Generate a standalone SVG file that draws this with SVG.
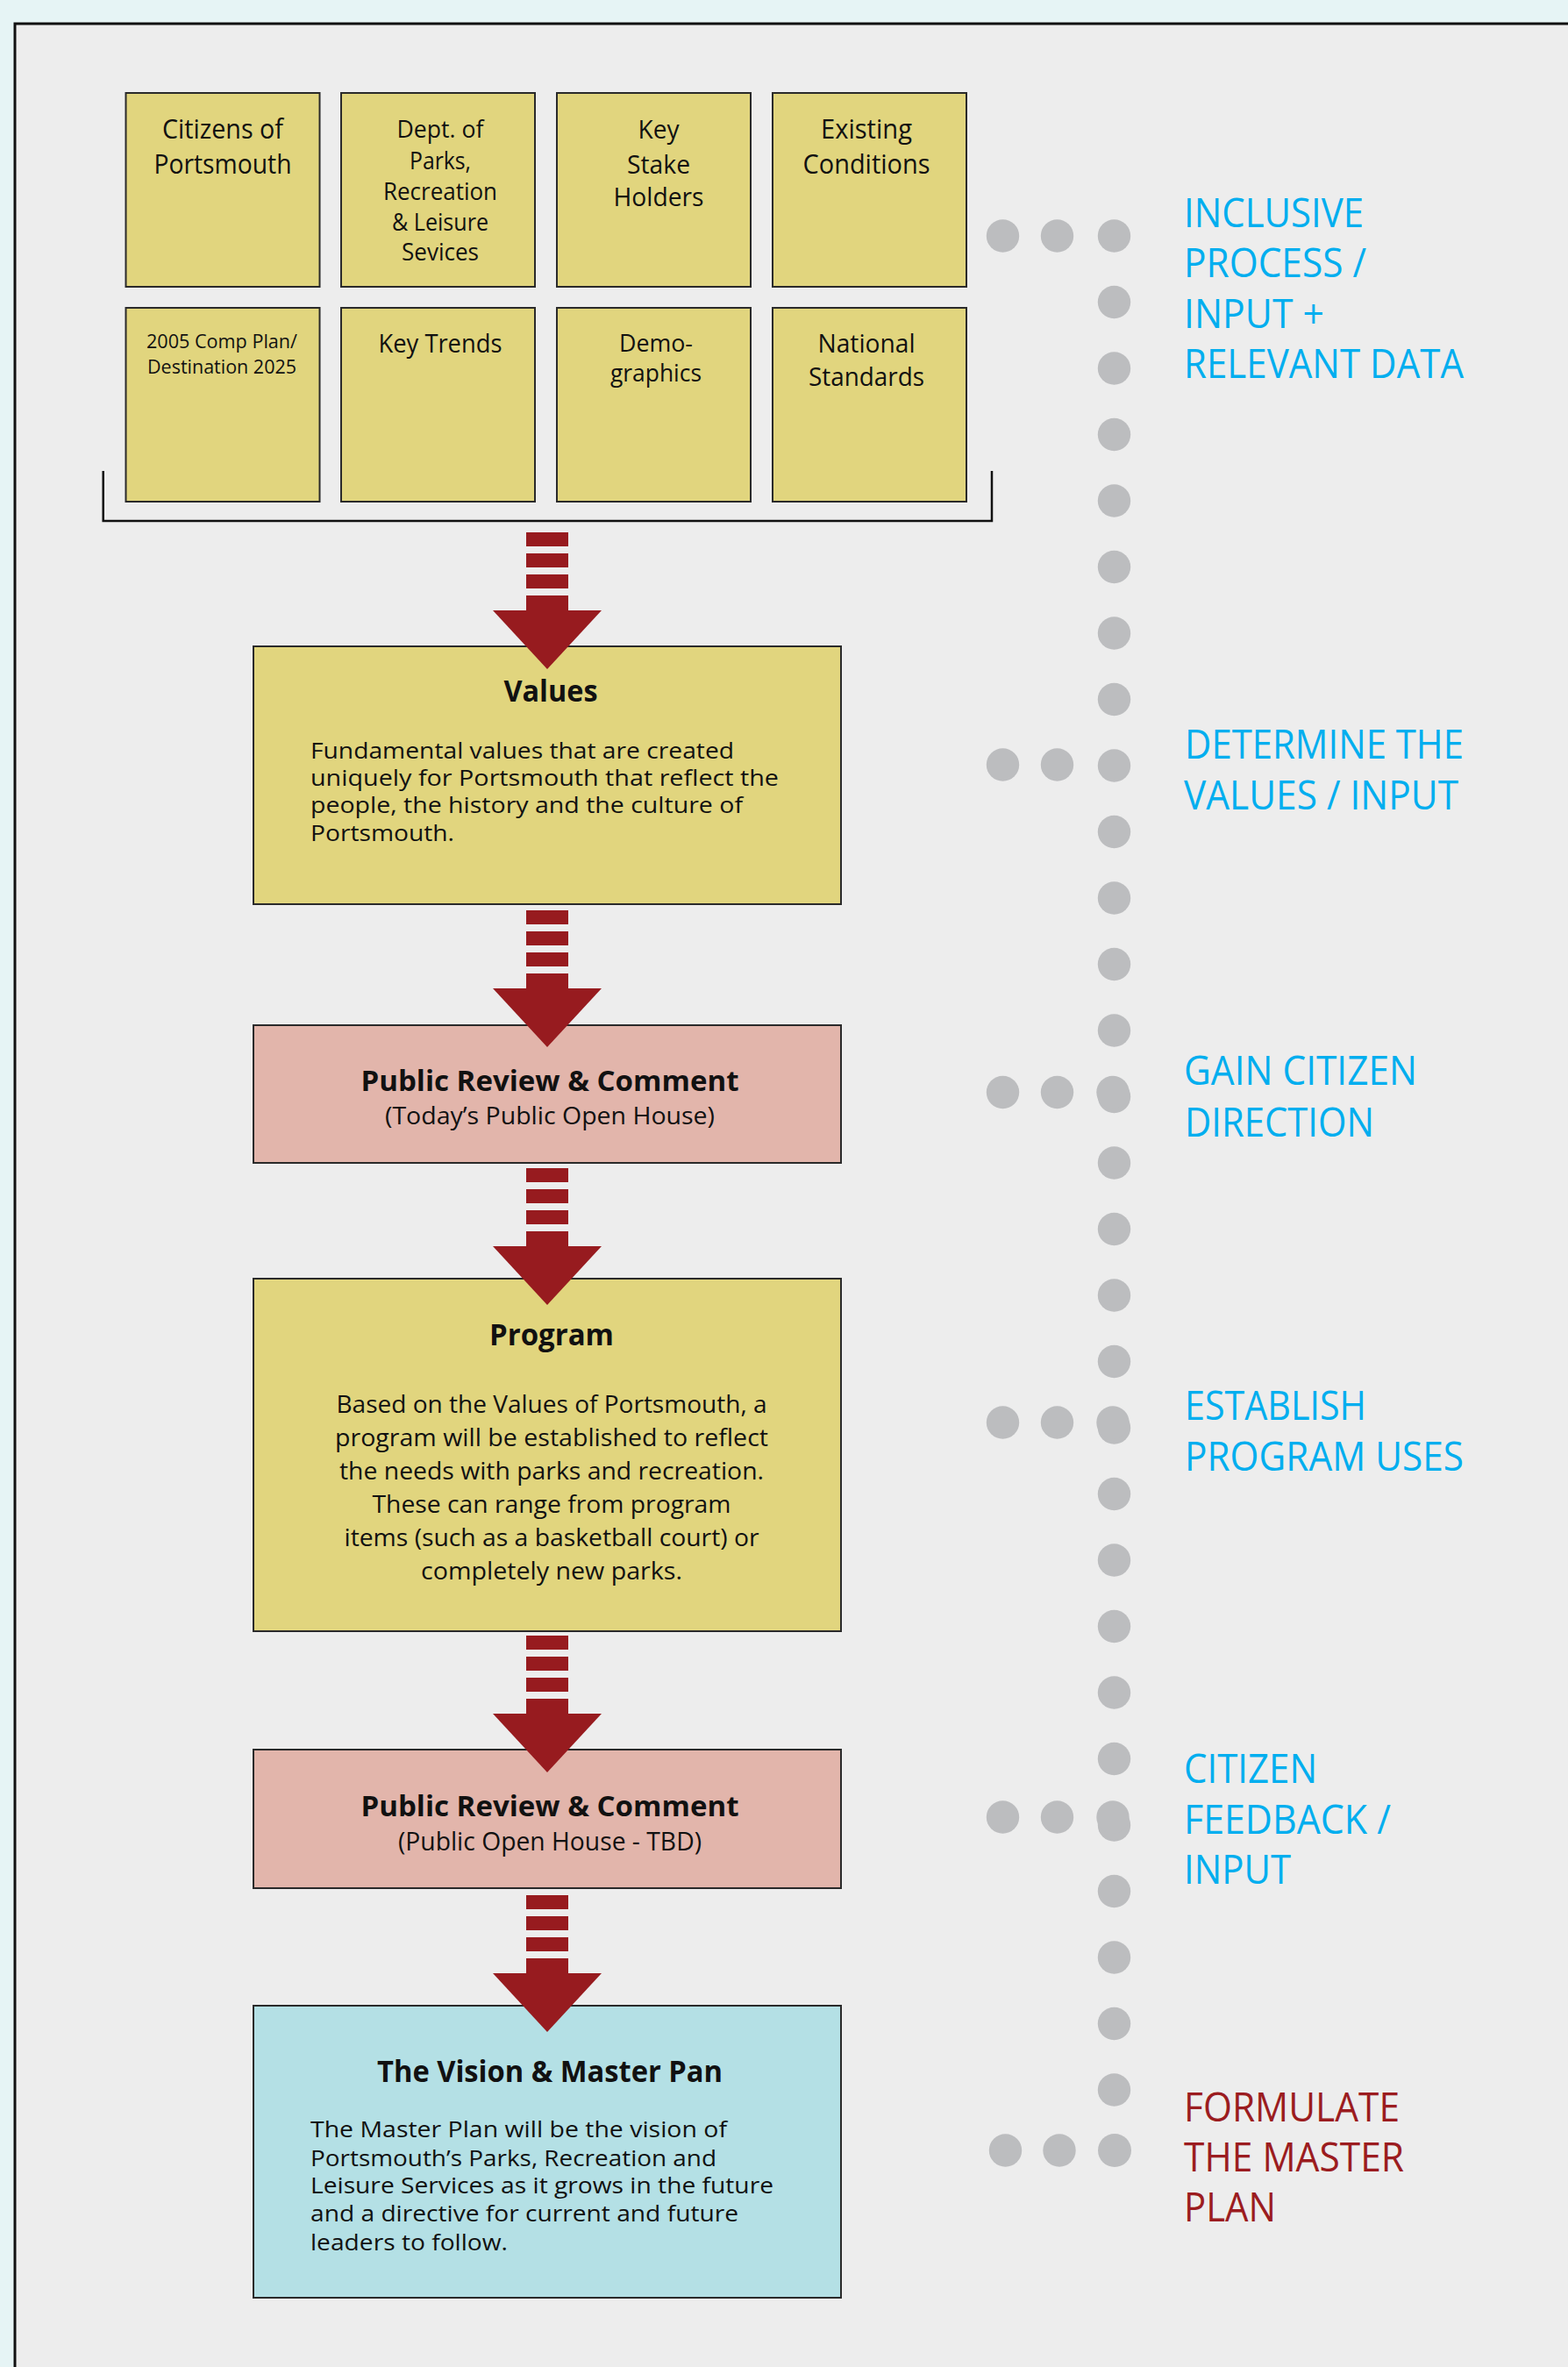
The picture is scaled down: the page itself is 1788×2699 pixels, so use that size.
<svg xmlns="http://www.w3.org/2000/svg" width="1788" height="2699" viewBox="0 0 1788 2699">
<style>
text{font-family:"Open Sans","Noto Sans",sans-serif;fill:#111}
.c{text-anchor:middle}
.b{font-weight:bold}
.y{fill:#e1d57e;stroke:#2a2a2a;stroke-width:2}
.p{fill:#e2b5ab;stroke:#2a2a2a;stroke-width:2}
.v{fill:#b4e0e5;stroke:#2a2a2a;stroke-width:2}
.dot{fill:#bcbdbf}
.lab{font-size:46px;fill:#00aeef}
.labr{font-size:46px;fill:#9b1c20}
.ar{fill:#971b1f}
.body{font-size:26px}
</style>
<defs>
<g id="arrow">
<rect class="ar" x="600" y="0" width="48" height="16"/>
<rect class="ar" x="600" y="24" width="48" height="16"/>
<rect class="ar" x="600" y="48" width="48" height="16"/>
<rect class="ar" x="600" y="72" width="48" height="18"/>
<polygon class="ar" points="562,89 686,89 624,156"/>
</g>
</defs>
<rect x="0" y="0" width="1788" height="2699" fill="#e6f4f5"/>
<rect x="17" y="27" width="1771" height="2672" fill="#ededed"/>
<path d="M17,2699 V27 H1788" fill="none" stroke="#111" stroke-width="3"/>

<g id="input-boxes">
<g id="citizens"><rect class="y" x="143.5" y="106" width="221" height="221"/>
<text class="c" font-size="31" x="254" y="158" textLength="138" lengthAdjust="spacingAndGlyphs">Citizens of</text>
<text class="c" font-size="31" x="254" y="198" textLength="157" lengthAdjust="spacingAndGlyphs">Portsmouth</text></g>
<g id="dept"><rect class="y" x="389" y="106" width="221" height="221"/>
<text class="c" font-size="27" x="502" y="157" textLength="99" lengthAdjust="spacingAndGlyphs">Dept. of</text>
<text class="c" font-size="27" x="502" y="193" textLength="70" lengthAdjust="spacingAndGlyphs">Parks,</text>
<text class="c" font-size="27" x="502" y="228" textLength="130" lengthAdjust="spacingAndGlyphs">Recreation</text>
<text class="c" font-size="27" x="502" y="263" textLength="110" lengthAdjust="spacingAndGlyphs">&amp; Leisure</text>
<text class="c" font-size="27" x="502" y="297" textLength="88" lengthAdjust="spacingAndGlyphs">Sevices</text></g>
<g id="stakeholders"><rect class="y" x="635" y="106" width="221" height="221"/>
<text class="c" font-size="30" x="751" y="158" textLength="47" lengthAdjust="spacingAndGlyphs">Key</text>
<text class="c" font-size="30" x="751" y="198" textLength="72" lengthAdjust="spacingAndGlyphs">Stake</text>
<text class="c" font-size="30" x="751" y="235" textLength="103" lengthAdjust="spacingAndGlyphs">Holders</text></g>
<g id="existing"><rect class="y" x="881" y="106" width="221" height="221"/>
<text class="c" font-size="31" x="988" y="158" textLength="104" lengthAdjust="spacingAndGlyphs">Existing</text>
<text class="c" font-size="31" x="988" y="198" textLength="145" lengthAdjust="spacingAndGlyphs">Conditions</text></g>
<g id="compplan"><rect class="y" x="143.5" y="351" width="221" height="221"/>
<text class="c" font-size="21" x="253" y="397" textLength="172" lengthAdjust="spacingAndGlyphs">2005 Comp Plan/</text>
<text class="c" font-size="21" x="253" y="426" textLength="170" lengthAdjust="spacingAndGlyphs">Destination 2025</text></g>
<g id="trends"><rect class="y" x="389" y="351" width="221" height="221"/>
<text class="c" font-size="29" x="502" y="402" textLength="141" lengthAdjust="spacingAndGlyphs">Key Trends</text></g>
<g id="demographics"><rect class="y" x="635" y="351" width="221" height="221"/>
<text class="c" font-size="28" x="748" y="401" textLength="84" lengthAdjust="spacingAndGlyphs">Demo-</text>
<text class="c" font-size="28" x="748" y="435" textLength="104" lengthAdjust="spacingAndGlyphs">graphics</text></g>
<g id="standards"><rect class="y" x="881" y="351" width="221" height="221"/>
<text class="c" font-size="29" x="988" y="402" textLength="111" lengthAdjust="spacingAndGlyphs">National</text>
<text class="c" font-size="29" x="988" y="440" textLength="132" lengthAdjust="spacingAndGlyphs">Standards</text></g>
<path id="bracket" d="M117.7,537 V594 H1131 V537" fill="none" stroke="#111" stroke-width="2.5"/>
</g>

<g id="values"><rect class="y" x="289" y="737" width="670" height="294"/>
<text class="c b" font-size="34" x="628" y="800" textLength="107" lengthAdjust="spacingAndGlyphs">Values</text>
<text class="body" x="354" y="865" textLength="483" lengthAdjust="spacingAndGlyphs">Fundamental values that are created</text>
<text class="body" x="354" y="896" textLength="534" lengthAdjust="spacingAndGlyphs">uniquely for  Portsmouth that reflect the</text>
<text class="body" x="354" y="927" textLength="493" lengthAdjust="spacingAndGlyphs">people, the history and the culture of</text>
<text class="body" x="354" y="959" textLength="164" lengthAdjust="spacingAndGlyphs">Portsmouth.</text></g>

<g id="review1"><rect class="p" x="289" y="1169" width="670" height="157"/>
<text class="c b" font-size="33" x="627" y="1244" textLength="431" lengthAdjust="spacingAndGlyphs">Public Review &amp; Comment</text>
<text class="c" font-size="28" x="627" y="1282" textLength="376" lengthAdjust="spacingAndGlyphs">(Today’s Public Open House)</text></g>

<g id="program"><rect class="y" x="289" y="1458" width="670" height="402"/>
<text class="c b" font-size="34" x="629" y="1534" textLength="142" lengthAdjust="spacingAndGlyphs">Program</text>
<text class="c" font-size="28" x="629" y="1611" textLength="491" lengthAdjust="spacingAndGlyphs">Based on the Values of Portsmouth, a</text>
<text class="c" font-size="28" x="629" y="1649" textLength="494" lengthAdjust="spacingAndGlyphs">program will be established to reflect</text>
<text class="c" font-size="28" x="629" y="1687" textLength="484" lengthAdjust="spacingAndGlyphs">the needs with parks and recreation.</text>
<text class="c" font-size="28" x="629" y="1725" textLength="409" lengthAdjust="spacingAndGlyphs">These can range from program</text>
<text class="c" font-size="28" x="629" y="1763" textLength="473" lengthAdjust="spacingAndGlyphs">items (such as a basketball court) or</text>
<text class="c" font-size="28" x="629" y="1801" textLength="298" lengthAdjust="spacingAndGlyphs">completely new parks.</text></g>

<g id="review2"><rect class="p" x="289" y="1995" width="670" height="158"/>
<text class="c b" font-size="33" x="627" y="2071" textLength="431" lengthAdjust="spacingAndGlyphs">Public Review &amp; Comment</text>
<text class="c" font-size="29" x="627" y="2110" textLength="346" lengthAdjust="spacingAndGlyphs">(Public Open House - TBD)</text></g>

<g id="vision"><rect class="v" x="289" y="2287" width="670" height="333"/>
<text class="c b" font-size="34" x="627" y="2374" textLength="394" lengthAdjust="spacingAndGlyphs">The Vision &amp; Master Pan</text>
<text class="body" x="354" y="2437" textLength="475" lengthAdjust="spacingAndGlyphs">The Master Plan will be the vision of</text>
<text class="body" x="354" y="2470" textLength="463" lengthAdjust="spacingAndGlyphs">Portsmouth’s Parks, Recreation and</text>
<text class="body" x="354" y="2501" textLength="528" lengthAdjust="spacingAndGlyphs">Leisure Services as it grows in the future</text>
<text class="body" x="354" y="2533" textLength="488" lengthAdjust="spacingAndGlyphs">and a directive for current and future</text>
<text class="body" x="354" y="2566" textLength="225" lengthAdjust="spacingAndGlyphs">leaders to follow.</text></g>

<g id="connectors">
<use href="#arrow" y="607"/>
<use href="#arrow" y="1038"/>
<use href="#arrow" y="1332"/>
<use href="#arrow" y="1865"/>
<use href="#arrow" y="2161"/>
</g>

<g id="dots">
<circle class="dot" cx="1270.5" cy="269" r="18.7"/>
<circle class="dot" cx="1270.5" cy="344.5" r="18.7"/>
<circle class="dot" cx="1270.5" cy="420" r="18.7"/>
<circle class="dot" cx="1270.5" cy="495.5" r="18.7"/>
<circle class="dot" cx="1270.5" cy="571" r="18.7"/>
<circle class="dot" cx="1270.5" cy="646.5" r="18.7"/>
<circle class="dot" cx="1270.5" cy="722" r="18.7"/>
<circle class="dot" cx="1270.5" cy="797.5" r="18.7"/>
<circle class="dot" cx="1270.5" cy="873" r="18.7"/>
<circle class="dot" cx="1270.5" cy="948.5" r="18.7"/>
<circle class="dot" cx="1270.5" cy="1024" r="18.7"/>
<circle class="dot" cx="1270.5" cy="1099.5" r="18.7"/>
<circle class="dot" cx="1270.5" cy="1175" r="18.7"/>
<circle class="dot" cx="1270.5" cy="1250.5" r="18.7"/>
<circle class="dot" cx="1270.5" cy="1326" r="18.7"/>
<circle class="dot" cx="1270.5" cy="1401.5" r="18.7"/>
<circle class="dot" cx="1270.5" cy="1477" r="18.7"/>
<circle class="dot" cx="1270.5" cy="1552.5" r="18.7"/>
<circle class="dot" cx="1270.5" cy="1628" r="18.7"/>
<circle class="dot" cx="1270.5" cy="1703.5" r="18.7"/>
<circle class="dot" cx="1270.5" cy="1779" r="18.7"/>
<circle class="dot" cx="1270.5" cy="1854.5" r="18.7"/>
<circle class="dot" cx="1270.5" cy="1930" r="18.7"/>
<circle class="dot" cx="1270.5" cy="2005.5" r="18.7"/>
<circle class="dot" cx="1270.5" cy="2081" r="18.7"/>
<circle class="dot" cx="1270.5" cy="2156.5" r="18.7"/>
<circle class="dot" cx="1270.5" cy="2232" r="18.7"/>
<circle class="dot" cx="1270.5" cy="2307.5" r="18.7"/>
<circle class="dot" cx="1270.5" cy="2383" r="18.7"/>
<circle class="dot" cx="1143.5" cy="269" r="18.7"/><circle class="dot" cx="1205.5" cy="269" r="18.7"/>
<circle class="dot" cx="1143.5" cy="872" r="18.7"/><circle class="dot" cx="1205.5" cy="872" r="18.7"/>
<circle class="dot" cx="1143.5" cy="1245.5" r="18.7"/><circle class="dot" cx="1205.5" cy="1245.5" r="18.7"/><circle class="dot" cx="1269" cy="1245.5" r="18.7"/>
<circle class="dot" cx="1143.5" cy="1622" r="18.7"/><circle class="dot" cx="1205.5" cy="1622" r="18.7"/><circle class="dot" cx="1269" cy="1622" r="18.7"/>
<circle class="dot" cx="1143.5" cy="2072" r="18.7"/><circle class="dot" cx="1205.5" cy="2072" r="18.7"/><circle class="dot" cx="1269" cy="2072" r="18.7"/>
<circle class="dot" cx="1146.5" cy="2452" r="18.7"/><circle class="dot" cx="1208" cy="2452" r="18.7"/><circle class="dot" cx="1271" cy="2452" r="19"/>
</g>

<g id="labels">
<text class="lab" x="1350" y="259" textLength="205" lengthAdjust="spacingAndGlyphs">INCLUSIVE</text>
<text class="lab" x="1350" y="316" textLength="208" lengthAdjust="spacingAndGlyphs">PROCESS /</text>
<text class="lab" x="1350" y="374" textLength="160" lengthAdjust="spacingAndGlyphs">INPUT +</text>
<text class="lab" x="1350" y="431" textLength="319" lengthAdjust="spacingAndGlyphs">RELEVANT DATA</text>
<text class="lab" x="1351" y="865" textLength="318" lengthAdjust="spacingAndGlyphs">DETERMINE THE</text>
<text class="lab" x="1350" y="923" textLength="313" lengthAdjust="spacingAndGlyphs">VALUES / INPUT</text>
<text class="lab" x="1350" y="1237" textLength="266" lengthAdjust="spacingAndGlyphs">GAIN CITIZEN</text>
<text class="lab" x="1351" y="1296" textLength="216" lengthAdjust="spacingAndGlyphs">DIRECTION</text>
<text class="lab" x="1351" y="1619" textLength="207" lengthAdjust="spacingAndGlyphs">ESTABLISH</text>
<text class="lab" x="1351" y="1677" textLength="318" lengthAdjust="spacingAndGlyphs">PROGRAM USES</text>
<text class="lab" x="1350" y="2033" textLength="152" lengthAdjust="spacingAndGlyphs">CITIZEN</text>
<text class="lab" x="1350" y="2091" textLength="236" lengthAdjust="spacingAndGlyphs">FEEDBACK /</text>
<text class="lab" x="1350" y="2148" textLength="122" lengthAdjust="spacingAndGlyphs">INPUT</text>
<text class="labr" x="1350" y="2419" textLength="246" lengthAdjust="spacingAndGlyphs">FORMULATE</text>
<text class="labr" x="1350" y="2476" textLength="251" lengthAdjust="spacingAndGlyphs">THE MASTER</text>
<text class="labr" x="1350" y="2533" textLength="105" lengthAdjust="spacingAndGlyphs">PLAN</text>
</g>
</svg>
